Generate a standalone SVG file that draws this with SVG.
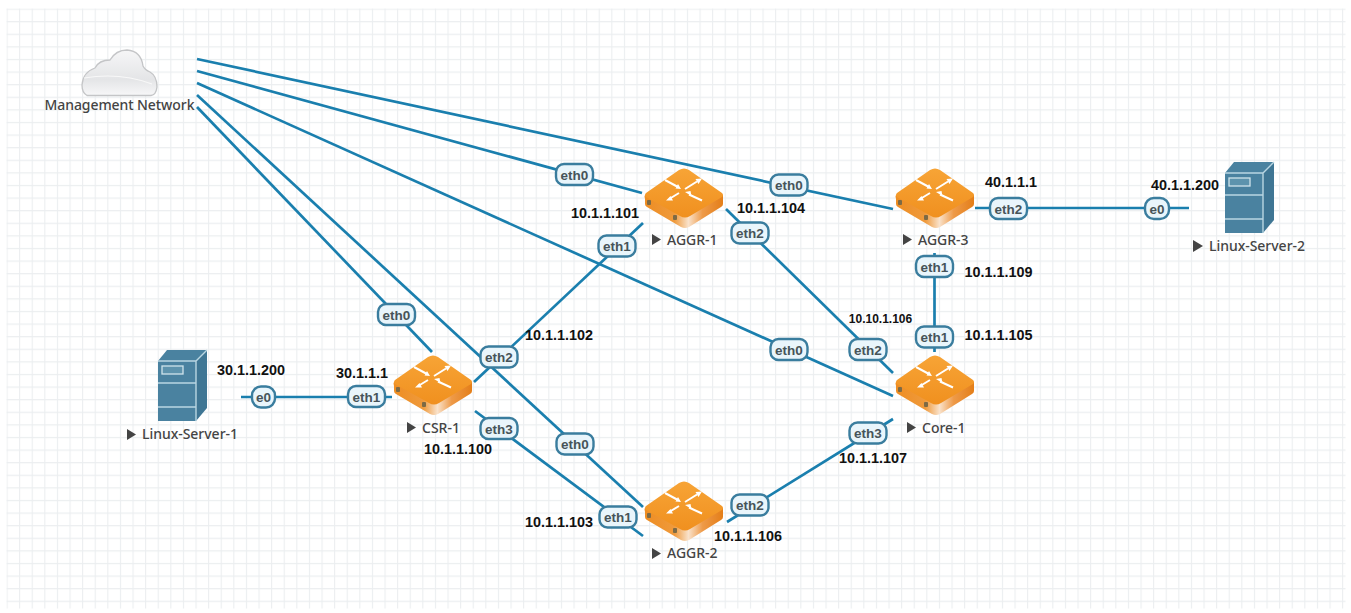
<svg xmlns="http://www.w3.org/2000/svg" width="1351" height="613" viewBox="0 0 1351 613">
<style>
.c{fill:none;stroke:#1a7fae;stroke-width:2.7}
.b{fill:#e9f5fb;stroke:#3a7d9e;stroke-width:2.4}
.l{font:bold 13.5px "Liberation Sans",Arial,sans-serif;fill:#475459;text-anchor:middle}
.ip{font:bold 14.4px "Liberation Sans",Arial,sans-serif;fill:#111;text-anchor:middle}
.n{font:500 14px "Noto Sans",sans-serif;fill:#444}
.t{fill:#444}
</style>
<defs>
<pattern id="g" width="12.6" height="12.6" patternUnits="userSpaceOnUse" x="6.5" y="8.5"><path d="M.5 0V12.6M0 .5H12.6" fill="none" stroke="#ebeef0" stroke-width="1.2"/></pattern>
<linearGradient id="top" x1="0" y1="0" x2="0" y2="1"><stop offset="0" stop-color="#f7a436"/><stop offset="1" stop-color="#f0901f"/></linearGradient>
<linearGradient id="side" x1="0" y1="0" x2="1" y2="0"><stop offset="0" stop-color="#ee8d22"/><stop offset=".38" stop-color="#ef9a3c"/><stop offset=".56" stop-color="#f9e2cb"/><stop offset=".74" stop-color="#ee9a48"/><stop offset="1" stop-color="#e47e18"/></linearGradient>
<linearGradient id="cl" x1="0" y1="0" x2="0" y2="1"><stop offset="0" stop-color="#f6f6f7"/><stop offset=".65" stop-color="#e4e5e7"/><stop offset="1" stop-color="#f7f7f8"/></linearGradient>
<g id="router">
<path d="M-39 -2 Q-40 -1 -39 2 L-39 7 Q-39 9 -37 10 L-3 30 Q1 32 5 30 L37 10 Q39 9 39 7 L39 -2Z" fill="url(#side)"/>
<path d="M-38 -4 L-5 -27 Q0 -30 5 -27 L38 -4 Q40 -2 38 0 L6 19 Q1 22 -4 19 L-38 0 Q-40 -2 -38 -4Z" fill="url(#top)"/>
<path d="M-19 -17 L-6 -10 M1 -8 L13 -15.500 M-5 -4 L-14 1.500 M5 -2.500 L18 3.500" fill="none" stroke="#fff" stroke-width="2"/>
<path d="M-3 -8 L-8.500 -8.500 L-6 -13Z M18 -18.500 L11.500 -18 L14.500 -13Z M-18 3.500 L-13.500 -1 L-11 3.500Z M1 -5 L6.500 -6 L7.500 -1Z" fill="#fff"/>
<rect x="-37" y="3" width="4" height="5" rx="1" fill="#7d6a45"/>
<rect x="-11" y="18" width="4" height="5" rx="1" fill="#7d6a45"/>
</g>
<g id="server">
<path d="M-22 -27 L-13 -38 L27 -38 L16 -27Z" fill="#4a82a0"/>
<path d="M16 -27 L27 -38 L27 20 L16 33Z" fill="#3f7694"/>
<rect x="-22" y="-27" width="38" height="60" fill="#4a82a0"/>
<path d="M-22 -27 H16 L27 -38 M16 -27 V33 M-22 -5 H16 M-22 19 H16" fill="none" stroke="#b9d6e2" stroke-width="1.4"/>
<rect x="-18" y="-22" width="21" height="8" fill="#5d93ad" stroke="#cfe4ec" stroke-width="1.3"/>
</g>
</defs>
<rect width="1351" height="613" fill="#fff"/>
<rect x="6.5" y="8.5" width="1339" height="600" fill="url(#g)"/>
<g id="connectors">
<path class="c" d="M197 59L893 209"/>
<path class="c" d="M197 71L642 193"/>
<path class="c" d="M197 83L893 396"/>
<path class="c" d="M197 95L643 507"/>
<path class="c" d="M197 107L432 352"/>
<path class="c" d="M474 382L643 223"/>
<path class="c" d="M475 411L643 536"/>
<path class="c" d="M726 209L893 373"/>
<path class="c" d="M727 522L893 419"/>
<path class="c" d="M934.500 253V352"/>
<path class="c" d="M975 208H1189"/>
<path class="c" d="M241 397H392"/>
</g>
<g id="mgmt"><path d="M87 95.500 Q82 93 82 85 Q83 72 95 68 Q99 60 110 60 Q116 50 127 50 Q141 51 143 66 Q145 70 150 72 Q157 76 157 87 Q156 95 151 95.500Z" fill="url(#cl)" stroke="#c4c5c7" stroke-width="1.3"/><path d="M84 78 Q120 72 152 84" fill="none" stroke="#f8f8f8" stroke-width="1.2"/><text x="119.500" y="110" class="n" text-anchor="middle" textLength="150">Management Network</text></g>
<g id="csr1"><use href="#router" x="433" y="384"/><path class="t" d="M407 422l9 5.500-9 5.500z"/><text x="422" y="433" class="n">CSR-1</text></g>
<g id="aggr1"><use href="#router" x="684" y="197"/><path class="t" d="M652 234l9 5.500-9 5.500z"/><text x="667" y="245" class="n">AGGR-1</text></g>
<g id="aggr2"><use href="#router" x="684" y="510"/><path class="t" d="M652 548l9 5.500-9 5.500z"/><text x="667" y="558" class="n">AGGR-2</text></g>
<g id="aggr3"><use href="#router" x="935" y="197"/><path class="t" d="M903 234l9 5.500-9 5.500z"/><text x="918" y="245" class="n">AGGR-3</text></g>
<g id="core1"><use href="#router" x="935" y="384"/><path class="t" d="M907 422l9 5.500-9 5.500z"/><text x="922" y="433" class="n">Core-1</text></g>
<g id="ls1"><use href="#server" x="180" y="388"/><path class="t" d="M127 429l9 5.500-9 5.500z"/><text x="142" y="439" class="n" textLength="96">Linux-Server-1</text></g>
<g id="ls2"><use href="#server" x="1247" y="200"/><path class="t" d="M1193 240l10 6-10 6z"/><text x="1209" y="251" class="n" textLength="96">Linux-Server-2</text></g>
<g id="labels">
<rect class="b" x="378" y="304" width="37" height="21" rx="8"/><text class="l" x="396.500" y="319.500">eth0</text>
<rect class="b" x="556" y="164" width="37" height="21" rx="8"/><text class="l" x="574.500" y="179.500">eth0</text>
<rect class="b" x="770.500" y="174.500" width="37" height="21" rx="8"/><text class="l" x="789" y="190">eth0</text>
<rect class="b" x="770.500" y="339" width="37" height="21" rx="8"/><text class="l" x="789" y="354.500">eth0</text>
<rect class="b" x="556.500" y="433.500" width="37" height="21" rx="8"/><text class="l" x="575" y="449">eth0</text>
<rect class="b" x="348" y="386" width="37" height="21" rx="8"/><text class="l" x="366.500" y="401.500">eth1</text>
<rect class="b" x="598.500" y="235.500" width="37" height="21" rx="8"/><text class="l" x="617" y="251">eth1</text>
<rect class="b" x="599.500" y="506.500" width="37" height="21" rx="8"/><text class="l" x="618" y="522">eth1</text>
<rect class="b" x="916" y="256" width="37" height="21" rx="8"/><text class="l" x="934.500" y="271.500">eth1</text>
<rect class="b" x="916" y="326.500" width="37" height="21" rx="8"/><text class="l" x="934.500" y="342">eth1</text>
<rect class="b" x="480.500" y="346.500" width="37" height="21" rx="8"/><text class="l" x="499" y="362">eth2</text>
<rect class="b" x="731.500" y="222.500" width="37" height="21" rx="8"/><text class="l" x="750" y="238">eth2</text>
<rect class="b" x="849.500" y="339" width="37" height="21" rx="8"/><text class="l" x="868" y="354.500">eth2</text>
<rect class="b" x="731.500" y="494.500" width="37" height="21" rx="8"/><text class="l" x="750" y="510">eth2</text>
<rect class="b" x="990" y="198" width="37" height="21" rx="8"/><text class="l" x="1008.500" y="213.500">eth2</text>
<rect class="b" x="480.500" y="418" width="37" height="21" rx="8"/><text class="l" x="499" y="433.500">eth3</text>
<rect class="b" x="849.500" y="422.500" width="37" height="21" rx="8"/><text class="l" x="868" y="438">eth3</text>
<rect class="b" x="252" y="386.500" width="23" height="21" rx="9"/><text class="l" x="263.500" y="402">e0</text>
<rect class="b" x="1145" y="198" width="24" height="21" rx="9"/><text class="l" x="1157" y="213.500">e0</text>
<text class="ip" x="251" y="375">30.1.1.200</text>
<text class="ip" x="362" y="378">30.1.1.1</text>
<text class="ip" x="458" y="454">10.1.1.100</text>
<text class="ip" x="559" y="340">10.1.1.102</text>
<text class="ip" x="605" y="217.500">10.1.1.101</text>
<text class="ip" x="771" y="213">10.1.1.104</text>
<text class="ip" x="559" y="527">10.1.1.103</text>
<text class="ip" x="748" y="541">10.1.1.106</text>
<text class="ip" x="873" y="463">10.1.1.107</text>
<text class="ip" x="880.500" y="323" style="font-size:12px">10.10.1.106</text>
<text class="ip" x="998.500" y="340">10.1.1.105</text>
<text class="ip" x="998.500" y="277">10.1.1.109</text>
<text class="ip" x="1011" y="187">40.1.1.1</text>
<text class="ip" x="1185" y="190">40.1.1.200</text>
</g>
</svg>
